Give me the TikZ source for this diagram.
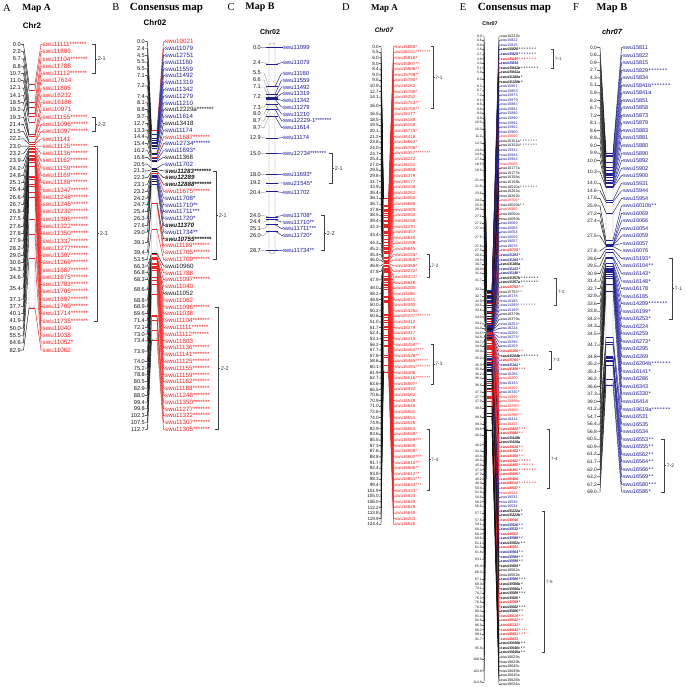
\documentclass[tikz,border=0pt]{standalone}
\usepackage{fontspec}
\setmainfont{Liberation Sans}
\newfontfamily\tnr{Liberation Serif}
\definecolor{mred}{RGB}{250,30,30}
\definecolor{mblue}{RGB}{30,30,150}
\definecolor{mblk}{RGB}{20,20,20}
\def\pSw{0.39}
\newcommand\onestar{\makebox[\pSw em][c]{*}}
\newcommand\stI{\onestar}
\newcommand\stII{\onestar\onestar}
\newcommand\stIII{\onestar\onestar\onestar}
\newcommand\stIV{\stII\stII}
\newcommand\stV{\stIV\onestar}
\newcommand\stVI{\stIII\stIII}
\newcommand\stVII{\stVI\onestar}
\tikzset{
 num/.style={anchor=east, inner sep=0pt, font=\fontsize{\pFn}{\pFn}\selectfont, text=mblk},
 lab/.style={anchor=west, inner sep=0pt, font=\fontsize{\pFl}{\pFl}\selectfont},
 t-r/.style={text=mred}, t-b/.style={text=mblue}, t-k/.style={text=mblk},
 t-R/.style={text=mred, execute at begin node=\bfseries\itshape},
 t-B/.style={text=mblue, execute at begin node=\bfseries\itshape},
 t-K/.style={text=mblk, execute at begin node=\bfseries\itshape},
 c-r/.style={draw=mred}, c-R/.style={draw=mred},
 c-b/.style={draw=mblue}, c-B/.style={draw=mblue},
 c-k/.style={draw=mblk}, c-K/.style={draw=mblk},
 lconn/.style={draw=\pLc, line width=0.45pt},
 rconn/.style={line width=0.45pt},
 mk/.style={line width=0.6pt},
 barsty/.style={draw=gray!75, fill=white, line width=0.4pt, rounded corners=1.5pt},
 qb/.style={draw=black!75, line width=0.45pt},
 ql/.style={anchor=west, inner sep=0.5pt, font=\fontsize{\pFq}{\pFq}\selectfont, text=black!80},
 let/.style={font=\tnr\fontsize{10.5}{10.5}\selectfont, inner sep=0pt},
 ttl/.style={font=\tnr\bfseries\fontsize{#1}{#1}\selectfont, inner sep=0pt},
 chr/.style={font=\bfseries\fontsize{#1}{#1}\selectfont, inner sep=0pt},
 chri/.style={font=\bfseries\itshape\fontsize{#1}{#1}\selectfont, inner sep=0pt},
}
\newcommand\drawnums[1]{%
 \foreach \vr/\vv [count=\vi] in {#1} {%
  \pgfmathsetmacro\vy{\pLy+\pLd*\vr}%
  \pgfmathsetmacro\vb{\pBt+\pBs*\vv}%
  \node[num] (\pPf n\vi) at (\pXn,\vy) {\vv};
  \coordinate (\pPf nb\vi) at (\pXbl,\vb);
  \draw[lconn] (\pPf n\vi.east) -- (\pXt,\vy) -- (\pPf nb\vi);
 }}
\newcommand\drawlabs[1]{%
 \foreach \vr/\vc/\vn/\vs [count=\vi] in {#1} {%
  \pgfmathsetmacro\vy{\pLy+\pLd*\vr}%
  \pgfmathsetmacro\vb{\pBt+\pBs*\vc}%
  \coordinate (\pPf b\vi) at (\pXbr,\vb);
  \node[lab, t-\vs] (\pPf l\vi) at (\pXl,\vy) {\vn};
  \draw[rconn, c-\vs] (\pPf b\vi) -- (\pXl-1.5,\vy) -- (\pPf l\vi.west);
  \draw[mk, c-\vs] (\pXbl-\pMe,\vb) -- (\pXbr+\pMe,\vb);
 }}
\newcommand\qtl[4]{%
 \pgfmathsetmacro\qya{\pLy+\pLd*#2}%
 \pgfmathsetmacro\qyb{\pLy+\pLd*#3}%
 \pgfmathsetmacro\qym{(\qya+\qyb)/2}%
 \draw[qb] (#1-\pQt,\qya) -- (#1,\qya) -- (#1,\qyb) -- (#1-\pQt,\qyb);
 \draw[qb] (#1,\qym) -- (#1+\pQt*0.7,\qym) node[ql] (\pPf q#2) {#4};
}
\begin{document}
\begin{tikzpicture}[x=1pt,y=-1pt]
\useasboundingbox (0,0) rectangle (685,687);
\fill[white] (0,0) rectangle (685,687);
% ================= PANEL A =================
\def\pPf{A}\def\pXn{21}\def\pXt{23.5}\def\pXbl{29}\def\pXbr{35}\def\pXl{42.5}
\def\pLy{44.3}\def\pLd{7.28}\def\pBt{84}\def\pBs{2.702}\def\pBb{308}
\def\pFn{5.7}\def\pFl{6.3}\def\pMe{0}\def\pFq{5.5}\def\pQt{3}\def\pLc{mblk}\def\pSw{0.39}
\node[let] (tA) at (7,8) {A};
\node[ttl=9.5] (mA) at (36.5,8.5) {Map A};
\node[chr=8] (cA) at (32,26) {Chr2};
\drawnums{0/0.0,1/2.2,2/6.7,3/8.8,4/10.7,5/11.0,6/12.1,7/14.1,8/18.5,9/19.2,10/19.3,11/21.4,12/21.5,13/22.2,14/23.0,15/23.2,16/23.9,17/24.2,18/24.8,19/25.1,20/26.4,21/26.6,22/26.7,23/26.8,24/27.5,25/27.6,26/27.8,27/27.9,28/28.2,29/29.0,30/30.6,31/34.3,32/34.6,33.5/35.4,35/37.1,36/37.7,37/40.1,38/41.9,39/50.0,40/55.5,41/64.6,42/82.9}
\draw[barsty] (\pXbl,\pBt) rectangle (\pXbr,\pBb);
\drawlabs{0/0.0/swu11111\stVII/r,1/2.2/swu11803/r,2/6.7/swu11104\stVII/r,3/8.8/swu11788/r,4/10.7/swu11112\stVII/r,
5/11.0/swu17614/r,6/12.1/swu11805/r,7/14.1/swu16232/r,8/18.5/swu16186/r,9/19.2/swu10971/r,
10/19.3/swu11155\stVII/r,11/21.4/swu11096\stVII/r,12/21.5/swu11097\stVII/r,13/22.2/swu11141/r,
14/23.0/swu11125\stVII/r,15/23.2/swu11136\stVII/r,16/23.9/swu11162\stVII/r,17/24.2/swu11159\stVII/r,
18/24.8/swu11169\stVII/r,19/25.1/swu11188\stVII/r,20/26.4/swu11247\stVII/r,21/26.6/swu11248\stVII/r,
22/26.7/swu11246\stVII/r,23/26.8/swu11239\stVII/r,24/27.5/swu11305\stVII/r,25/27.6/swu11322\stVII/r,
26/27.8/swu11350\stVII/r,27/27.9/swu11337\stVII/r,28/28.2/swu11277\stVII/r,29/29.0/swu11307\stVII/r,
30/30.6/swu11269\stVII/r,31/34.3/swu11687\stVII/r,32/34.6/swu11675\stVII/r,33/35.4/swu11703\stVII/r,
34/35.4/swu11705\stVII/r,35/37.1/swu11697\stVII/r,36/37.7/swu11709\stVII/r,37/40.1/swu11714\stVII/r,
38/41.9/swu11735\stVII/r,39/50.0/swu11040/r,40/55.5/swu11038/r,41/64.6/swu11052\stI/r,42/82.9/swu11062/r}
\qtl{95}{0}{4}{2-1}
\qtl{95}{10}{12}{2-2}
\qtl{97}{14}{38}{2-3}
% ================= PANEL B =================
\def\pPf{B}\def\pXn{145}\def\pXt{147.5}\def\pXbl{151.5}\def\pXbr{157}\def\pXl{165}
\def\pLy{41.7}\def\pLd{6.8}\def\pBt{130}\def\pBs{1.863}\def\pBb{340}
\def\pFn{5.6}\def\pFl{6.2}\def\pMe{0}\def\pFq{5.5}\def\pQt{3}\def\pLc{mblk}\def\pSw{0.39}
\node[let] (tB) at (116,7.5) {B};
\node[ttl=11] (mB) at (166.5,8) {Consensus map};
\node[chr=8] (cB) at (155,23) {Chr02};
\drawnums{0/0.0,1/2.4,2/4.5,3/5.5,4/6.5,5/7.1,6.5/7.2,8/7.4,9/8.1,10/8.8,11/9.7,12/12.7,13/13.3,14/14.4,15/15.4,16/16.2,17/16.8,18/20.5,19/21.3,20/22.3,21/23.1,22/23.2,23/24.2,24/24.7,25/25.4,26/26.3,27/27.6,28/29.0,29.5/39.1,31/39.4,32/53.5,33/66.3,34/66.8,35/68.3,36.5/68.6,38/68.8,39/68.9,40/69.6,41/71.4,42/72.1,43/73.0,44/73.4,45.5/73.9,47/74.0,48/75.2,49/78.8,50/80.5,51/82.9,52/88.0,53/99.4,54/99.8,55/102.3,56/107.5,57/112.7}
\draw[barsty] (\pXbl,\pBt) rectangle (\pXbr,\pBb);
\drawlabs{0/0.0/swu10021/r,1/2.4/swu11079/b,2/4.5/swu12751/b,3/5.5/swu11160/b,4/6.5/swu11559/b,
5/7.1/swu11492/b,6/7.2/swu11319/b,7/7.2/swu11342/b,8/7.4/swu11279/b,9/8.1/swu11210/b,
10/8.8/swu12229a\stVII/k,11/9.7/swu11614/b,12/12.7/swu13418/k,13/13.3/swu11174/b,
14/14.4/swu11687\stVII/r,15/15.4/swu12734\stVII/b,16/16.2/swu11693\stI/b,17/16.8/swu11368/k,
18/20.5/swu11702/b,19/21.3/swu11283\stVII/K,20/22.3/swu12289/K,21/23.1/swu12888\stVII/K,
22/23.2/swu11675\stVII/r,23/24.2/swu11708\stI/b,24/24.7/swu11710\stII/b,25/25.4/swu11711\stIII/b,
26/26.3/swu11720\stI/b,27/27.6/swu11370/K,28/29.0/swu11734\stII/b,29/39.1/swu10755\stVII/K,
30/39.1/swu11169\stVII/r,31/39.4/swu11705\stVII/r,32/53.5/swu11709\stVII/r,33/66.3/swu10960/k,
34/66.8/swu11788/r,35/68.3/swu11097\stVII/r,36/68.6/swu11040/r,37/68.6/swu11052/k,
38/68.8/swu11062/r,39/68.9/swu11096\stVII/r,40/69.6/swu11038/r,41/71.4/swu11104\stVII/r,
42/72.1/swu11111\stVII/r,43/73.0/swu11112\stVII/r,44/73.4/swu11803/r,45/73.9/swu11136\stVII/r,
46/73.9/swu11141\stVII/r,47/74.0/swu11125\stVII/r,48/75.2/swu11155\stVII/r,49/78.8/swu11159\stVII/r,
50/80.5/swu11162\stVII/r,51/82.9/swu11188\stVII/r,52/88.0/swu11246\stVII/r,53/99.4/swu11350\stVII/r,
54/99.8/swu11277\stVII/r,55/102.3/swu11322\stVII/r,56/107.5/swu11307\stVII/r,57/112.7/swu11305\stVII/r}
\qtl{216}{19}{32}{2-1}
\qtl{218}{39}{57}{2-2}
% ================= PANEL C =================
\def\pPf{C}\def\pXn{261}\def\pXt{264}\def\pXbl{269}\def\pXbr{275}\def\pXl{283}
\def\pLy{0}\def\pLd{1}\def\pBt{47.7}\def\pBs{7.05}\def\pBb{253.5}
\def\pFn{5.6}\def\pFl{5.9}\def\pMe{3}\def\pFq{5.5}\def\pQt{3}\def\pLc{gray!70}\def\pSw{0.39}
\node[let] (tC) at (231,7.5) {C};
\node[ttl=10] (mC) at (260,7.5) {Map B};
\node[chr=7] (cC) at (270,32) {Chr02};
\drawnums{47.7/0.0,62.7/2.4,73/5.5,80/6.6,87/7.1,97/7.2,107.2/7.3,114/8.0,120.8/8.7,127.6/9.7,137.7/12.9,153.7/15.0,174.3/18.0,183/19.2,192.3/20.4,215.7/24.0,222/24.4,228.7/25.1,235.3/26.0,250.7/28.7}
\draw[barsty, draw=gray!90] (\pXbl,43) rectangle (\pXbr,\pBb);
\drawlabs{47.7/0.0/swu11099/b,62.7/2.4/swu11079/b,73/5.5/swu11160/b,80/6.6/swu11559/b,87/7.1/swu11492/b,
93.7/7.2/swu11319/b,100.3/7.2/swu11342/b,107.2/7.3/swu11279/b,114/8.0/swu11210/b,120.8/8.7/swu12229-1\stVII/b,
127.6/9.7/swu11614/b,137.7/12.9/swu11174/b,153.7/15.0/swu12734\stVII/b,174.3/18.0/swu11693\stI/b,
183/19.2/swu21545\stI/b,192.3/20.4/swu11702/b,215.7/24.0/swu11708\stI/b,222/24.4/swu11710\stII/b,
228.7/25.1/swu11711\stIII/b,235.3/26.0/swu11720\stI/b,250.7/28.7/swu11734\stII/b}
\qtl{332}{153.7}{183}{2-1}
\qtl{324}{215.7}{250.7}{2-2}
% ================= PANEL D =================
\def\pPf{D}\def\pXn{379}\def\pXt{381}\def\pXbl{383.5}\def\pXbr{388.5}\def\pXl{395}
\def\pLy{46.7}\def\pLd{5.619}\def\pBt{198}\def\pBs{1.399}\def\pBb{372}
\def\pFn{4.6}\def\pFl{4.4}\def\pMe{0}\def\pFq{4.8}\def\pQt{2.5}\def\pLc{mblk}\def\pSw{0.5}
\node[let] (tD) at (346,7.5) {D};
\node[ttl=9] (mD) at (384.5,8) {Map A};
\node[chri=6.5] (cD) at (384,30) {Chr07};
\drawnums{0/0.0,1/5.5,2/6.0,3/8.0,4/8.4,5/9.0,6/9.5,7/10.9,8/12.7,9/14.1,10.5/16.0,12/16.5,13/18.5,14/19.5,15/20.1,16/21.2,17/23.8,18/24.0,19/24.7,20/25.4,21/27.0,22/29.5,23/29.8,24/31.7,25/33.9,26/35.4,27/36.1,28/36.7,29/37.8,30/38.5,31/39.4,32/42.3,33.5/43.4,35/44.3,36/45.2,37/45.4,38/46.0,39/46.8,40/47.8,41.5/47.9,43/48.0,44/48.2,45/48.8,46/50.0,47/50.2,48/50.6,49/51.0,50/51.7,51/52.4,52/53.1,53/56.2,54/57.7,55/57.8,56/58.6,57/60.1,58/61.9,59/62.7,60/63.6,61/65.5,62/70.6,63/70.9,64/71.0,65/72.8,66/74.0,67/74.9,68/82.9,69/83.6,70/85.5,71/87.3,72/87.6,73/88.8,74/91.7,75/92.4,76/93.8,77/98.3,78/99.4,79/101.9,80/105.0,81/106.0,82/112.2,83/113.8,84/119.9,85/124.4}
\draw[barsty] (\pXbl,\pBt) rectangle (\pXbr,\pBb);
\drawlabs{0/0.0/swu15885\stI/r,1/5.5/swu16151\stVII/r,2/6.0/swu15816\stI/r,3/8.0/swu15807\stII/r,
4/8.4/swu15806\stII/r,5/9.0/swu15798\stII/r,6/9.5/swu15790\stI/r,7/10.9/swu16262/r,8/12.7/swu15788\stI/r,
9/14.1/swu16252/r,10/16.0/swu15753\stII/r,11/16.0/swu15750\stII/r,12/16.5/swu16177/r,13/18.5/swu16188/r,
14/19.5/swu16150/r,15/20.1/swu15725\stI/r,16/21.2/swu16418/r,17/23.8/swu16662\stI/r,18/24.0/swu15706\stI/r,
19/24.7/swu16357\stVII/r,20/25.4/swu16222/r,21/27.0/swu16151/r,22/29.5/swu15888/r,23/29.8/swu16379/r,
24/31.7/swu16177/r,25/33.9/swu16158/r,26/35.4/swu16262/r,27/36.1/swu16050/r,28/36.7/swu15668/r,
29/37.8/swu16380/r,30/38.5/swu16050/r,31/39.4/swu16158/r,32/42.3/swu11370/r,33/43.4/swu16357/r,
34/43.4/swu16640/r,35/44.3/swu12289/r,36/45.2/swu15645/r,37/45.4/swu16150\stI/r,38/46.0/swu16368\stII/r,
39/46.8/swu16368\stI/r,40/47.8/swu16222\stI/r,41/47.9/swu16222\stI/r,42/47.9/swu15648/r,43/48.0/swu16200/r,
44/48.2/swu11368/r,45/48.8/swu10021/r,46/50.0/swu16390/r,47/50.2/swu15325a/r,48/50.6/swu20237\stVII/r,
49/51.0/swu16412/r,50/51.7/swu16379/r,51/52.4/swu16417/r,52/53.1/swu16418/r,53/56.2/swu16458\stII/r,
54/57.7/swu16462\stIV/r,55/57.8/swu16528\stII/r,56/58.6/swu16465\stVI/r,57/60.1/swu16491\stVII/r,
58/61.9/swu16486/r,59/62.7/swu16516\stVII/r,60/63.6/swu16507\stI/r,61/65.5/swu16532/r,62/70.6/swu16562/r,
63/70.9/swu16540/r,64/71.0/swu16645/r,65/72.8/swu16552/r,66/74.0/swu16551/r,67/74.9/swu16528/r,
68/82.9/swu16564/r,69/83.6/swu16588\stI/r,70/85.5/swu16589\stIII/r,71/87.3/swu16600/r,72/87.6/swu16599\stI/r,
73/88.8/swu16602\stIII/r,74/91.7/swu16610\stII/r,75/92.4/swu16606\stII/r,76/93.8/swu16612\stII/r,
77/98.3/swu16651\stIII/r,78/99.4/swu16643\stIII/r,79/101.9/swu16333\stI/r,80/105.0/swu16633/r,
81/106.0/swu16640/r,82/112.2/swu16629/r,83/113.8/swu16645/r,84/119.9/swu16202/r,85/124.4/swu16626/r}
\qtl{433}{0}{11}{7-1}
\qtl{429}{37}{41}{7-2}
\qtl{433}{53}{60}{7-3}
\qtl{429}{68}{79}{7-4}
% ================= PANEL E =================
\def\pPf{E}\def\pXn{482}\def\pXt{484}\def\pXbl{486.5}\def\pXbr{492}\def\pXl{500.5}
\def\pLy{36}\def\pLd{4.568}\def\pBt{290}\def\pBs{1.2185}\def\pBb{430}
\def\pFn{3.4}\def\pFl{3.7}\def\pMe{0}\def\pFq{4.5}\def\pQt{2}\def\pLc{mblk}\def\pSw{0.7}
\node[let] (tE) at (463,7.5) {E};
\node[ttl=11] (mE) at (514.5,8) {Consensus map};
\node[chr=5.3] (cE) at (490,24) {Chr07};
\drawnums{0/0.0,1/0.6,2/0.9,3/1.6,4/2.7,5/2.8,6/4.3,7/5.1,8/5.9,9.5/6.0,11/6.2,12/6.7,13/7.2,14/8.1,15/8.6,16/8.8,17/9.0,18/9.9,19/10.0,20.5/10.3,22/11.2,23.5/12.3,25/14.0,26/14.6,27/17.8,28/18.5,29.5/18.9,31.5/21.4,33/21.8,34.5/23.6,36/24.0,37/25.9,38/26.0,39.5/27.1,41/27.2,42/27.4,44/27.5,46/27.8,47/27.9,48/28.6,49/29.5,50/30.7,51/30.9,52/31.4,53.5/31.7,55.5/32.0,57/32.7,58/32.9,59/33.5,60/33.8,61.5/34.0,63/34.2,64/34.3,65/34.5,66/34.6,67/34.7,68/34.8,69/35.0,70.5/35.2,72/35.5,73/35.8,74/36.2,75/36.4,76.5/36.6,78/37.3,79/37.7,80/37.9,81.5/38.5,83.5/38.8,85/39.3,86/39.6,87.5/40.0,89.5/40.2,91/41.4,92/43.4,93/45.0,94/45.9,95/47.3,96/47.9,97/48.2,98/48.9,99/50.9,100/52.9,101/54.6,102/56.2,103/56.6,104.5/57.7,106/57.8,107/59.1,108/60.3,109/60.4,110/60.6,111/61.1,112/61.5,113/61.8,114.5/63.1,116/65.3,117.5/66.3,119/67.1,120/68.9,121/73.1,122/74.7,123/76.5,124/76.8,125/78.0,126/80.4,127/81.4,128/82.8,129/86.9,130/88.2,131/89.1,132/91.7,134/95.8,136.5/100.9,139/103.8,141.5/114.9}
\draw[barsty] (\pXbl,\pBt) rectangle (\pXbr,\pBb);
\drawlabs{0/0.0/swu16232b/k,1/0.6/swu15822/b,2/0.9/swu15815/b,3/1.6/swu16828\stVII/K,4/2.7/swu15829\stVII/B,
5/2.8/swu15845\stVII/R,6/4.3/swu15834/B,7/5.1/swu15841b\stVII/K,8/5.9/swu15841a/K,9/6.0/swu16180a\stI/K,
10/6.0/swu16120b\stI/K,11/6.2/swu15851/b,12/6.7/swu15858/b,13/7.2/swu15873/b,14/8.1/swu15879/b,
15/8.6/swu15883/b,16/8.8/swu15881/b,17/9.0/swu15880/b,18/9.9/swu15890/b,19/10.0/swu15892/b,
20/10.3/swu15902/b,21/10.3/swu15900/b,22/11.2/swu15666/r,23/12.3/swu16151a\stVII/k,24/12.3/swu16151b\stVII/k,
25/14.0/swu15931/b,26/14.6/swu15944/b,27/17.8/swu15954/b,28/18.5/swu15696/r,29/18.9/swu16177a/k,
30/18.9/swu16177b/k,31/21.4/swu16158a/k,32/21.4/swu16158b/k,33/21.8/swu16010a\stVII/k,34/23.6/swu16262a/k,
35/23.6/swu16262b/k,36/24.0/swu15706\stI/r,37/25.9/swu16010b\stII/k,38/26.0/swu16380/r,39/27.1/swu16050a/k,
40/27.1/swu16050b/k,41/27.2/swu16069/b,42/27.4/swu16066/b,43/27.5/swu16054/b,44/27.5/swu16059/b,
45/27.5/swu16057/b,46/27.8/swu16076/b,47/27.9/swu15725\stI/R,48/28.6/swu15193\stI/B,49/29.5/swu16104\stII/B,
50/30.7/swu16186a/K,51/30.9/swu16143\stI/B,52/31.4/swu16148\stI/B,53/31.7/swu16357b\stVII/K,
54/31.7/swu16357a\stVII/K,55/32.0/swu15750\stII/R,56/32.0/swu15753\stII/k,57/32.7/swu16178/b,
58/32.9/swu16185/b,59/33.5/swu14289\stVII/b,60/33.8/swu16199\stI/b,61/34.0/swu16379b/k,62/34.0/swu16379a/k,
63/34.2/swu16253\stI/b,64/34.3/swu16224/b,65/34.5/swu16259/b,66/34.6/swu16273\stI/b,67/34.7/swu16295/b,
68/34.8/swu16269/b,69/35.0/swu16360\stII/R,70/35.2/swu16204b\stVII/K,71/35.2/swu15766\stI/R,
72/35.5/swu16141\stI/B,73/35.8/swu16368\stIII/R,74/36.2/swu16286/b,75/36.4/swu16200/r,76/36.6/swu16343/b,
77/36.6/swu16362/r,78/37.3/swu16330\stI/b,79/37.7/swu16390/r,80/37.9/swu15325a/r,81/38.5/swu15795\stI/r,
82/38.5/swu16412/r,83/38.8/swu15796\stII/r,84/38.8/swu16414/b,85/39.3/swu16417/r,86/39.6/swu15800\stIII/R,
87/40.0/swu15880\stII/R,88/40.0/swu16418b/K,89/40.2/swu16418a/K,90/40.2/swu15816\stII/R,91/41.4/swu16452\stII/R,
92/43.4/swu16450\stII/R,93/45.0/swu16462\stV/R,94/45.9/swu16465\stVI/R,95/47.3/swu16491\stVII/R,
96/47.9/swu15685\stI/R,97/48.2/swu16486/R,98/48.9/swu16516\stVII/R,99/50.9/swu16507\stI/R,100/52.9/swu16532/r,
101/54.6/swu16531/b,102/56.2/swu16535/b,103/56.6/swu16534/b,104/57.7/swu16222a\stI/K,105/57.7/swu16222b\stI/K,
106/57.8/swu16540/R,107/59.1/swu16528\stII/B,108/60.3/swu16532\stII/B,109/60.4/swu16552/R,110/60.6/swu16588\stII/B,
111/61.1/swu16562c\stII/K,112/61.5/swu16551/R,113/61.8/swu16564\stII/B,114/63.1/swu16589\stII/B,
115/63.1/swu16599\stII/B,116/65.3/swu16684\stI/K,117/66.3/swu16562a/k,118/66.3/swu16562b/k,
119/67.1/swu16580\stIII/B,120/68.9/swu16586b\stI/K,121/73.1/swu16586a\stI/K,122/74.7/swu16589\stIII/K,
123/76.5/swu16600\stI/K,124/76.8/swu16599\stI/R,125/78.0/swu16602\stIII/K,126/80.4/swu16606\stII/K,
127/81.4/swu16610\stII/R,128/82.8/swu16612\stII/R,129/86.9/swu16333\stI/R,130/88.2/swu16643\stIII/R,
131/89.1/swu16651\stIII/R,132/91.7/swu16633/R,133/95.8/swu16640b\stII/K,134/95.8/swu16640c\stII/K,
135/95.8/swu16640a\stII/K,136/100.9/swu16629a/k,137/100.9/swu16629b/k,138/103.8/swu16645c/k,
139/103.8/swu16645b/k,140/103.8/swu16645a/k,141/114.9/swu16626b/k,142/114.9/swu16626a/k}
\qtl{553}{3}{7}{7-1}
\qtl{556}{53}{59}{7-2}
\qtl{551}{69}{73}{7-3}
\qtl{549}{86}{99}{7-4}
\qtl{544}{104}{135}{7-5}
% ================= PANEL F =================
\def\pPf{F}\def\pXn{597}\def\pXt{600}\def\pXbl{606}\def\pXbr{613}\def\pXl{623}
\def\pLy{47.7}\def\pLd{7.53}\def\pBt{153}\def\pBs{3.362}\def\pBb{385}
\def\pFn{4.8}\def\pFl{5.5}\def\pMe{0}\def\pFq{5}\def\pQt{3}\def\pLc{mblk}\def\pSw{0.5}
\node[let] (tF) at (576,7.5) {F};
\node[ttl=10.5] (mF) at (612,8) {Map B};
\node[chri=7.5] (cF) at (612,32) {chr07};
\drawnums{0/0.0,1/0.6,2/0.9,3/2.7,4/4.3,5/5.1,6/5.9,7/6.2,8/6.7,9/7.2,10/8.1,11/8.6,12/8.8,13/9.0,14/9.9,15/10.0,16.5/10.3,18/14.0,19/14.6,20/17.8,21/25.9,22/27.2,23/27.4,25/27.5,27/27.8,28/28.6,29/29.5,30/30.9,31/31.4,32/32.7,33/32.9,34/33.6,35/33.8,36/34.2,37/34.3,38/34.5,39.5/34.7,41/34.8,42/35.2,43/35.4,44/36.2,45/36.6,46/37.3,47/39.0,48/41.2,49/54.7,50/56.4,51/56.8,52/60.5,53/60.9,54/61.2,55/61.7,56/62.0,57/63.2,58/67.2,59/69.0}
\draw[barsty] (\pXbl,\pBt) rectangle (\pXbr,\pBb);
\drawlabs{0/0.0/swu15811/b,1/0.6/swu15822/b,2/0.9/swu15815/b,3/2.7/swu15829\stVII/b,4/4.3/swu15834/b,
5/5.1/swu15841b\stVII/b,6/5.9/swu15841a/b,7/6.2/swu15851/b,8/6.7/swu15858/b,9/7.2/swu15873/b,
10/8.1/swu15879/b,11/8.6/swu15883/b,12/8.8/swu15881/b,13/9.0/swu15880/b,14/9.9/swu15890/b,
15/10.0/swu15892/b,16/10.3/swu15902/b,17/10.3/swu15900/b,18/14.0/swu15931/b,19/14.6/swu15944/b,
20/17.8/swu15954/b,21/25.9/swu16010b\stII/b,22/27.2/swu16069/b,23/27.4/swu16066/b,24/27.5/swu16054/b,
25/27.5/swu16059/b,26/27.5/swu16057/b,27/27.8/swu16076/b,28/28.6/swu15193\stI/b,29/29.5/swu16104\stII/b,
30/30.9/swu16143\stI/b,31/31.4/swu16148\stI/b,32/32.7/swu16178/b,33/32.9/swu16185/b,34/33.6/swu14289\stVII/b,
35/33.8/swu16199\stI/b,36/34.2/swu16253\stI/b,37/34.3/swu16224/b,38/34.5/swu16259/b,39/34.7/swu16273\stI/b,
40/34.7/swu16295/b,41/34.8/swu16269/b,42/35.2/swu16204b\stVII/b,43/35.4/swu16141\stI/b,44/36.2/swu16286/b,
45/36.6/swu16343/b,46/37.3/swu16330\stI/b,47/39.0/swu16414/b,48/41.2/swu19619a\stVII/b,49/54.7/swu16531/b,
50/56.4/swu16535/b,51/56.8/swu16534/b,52/60.5/swu16553\stII/b,53/60.9/swu16555\stII/b,54/61.2/swu16562\stII/b,
55/61.7/swu16564\stII/b,56/62.0/swu16566\stII/b,57/63.2/swu16569\stII/b,58/67.2/swu16580\stIII/b,59/69.0/swu16586\stI/b}
\qtl{672}{28}{36}{7-1}
\qtl{664}{52}{59}{7-2}
\end{tikzpicture}
\end{document}
